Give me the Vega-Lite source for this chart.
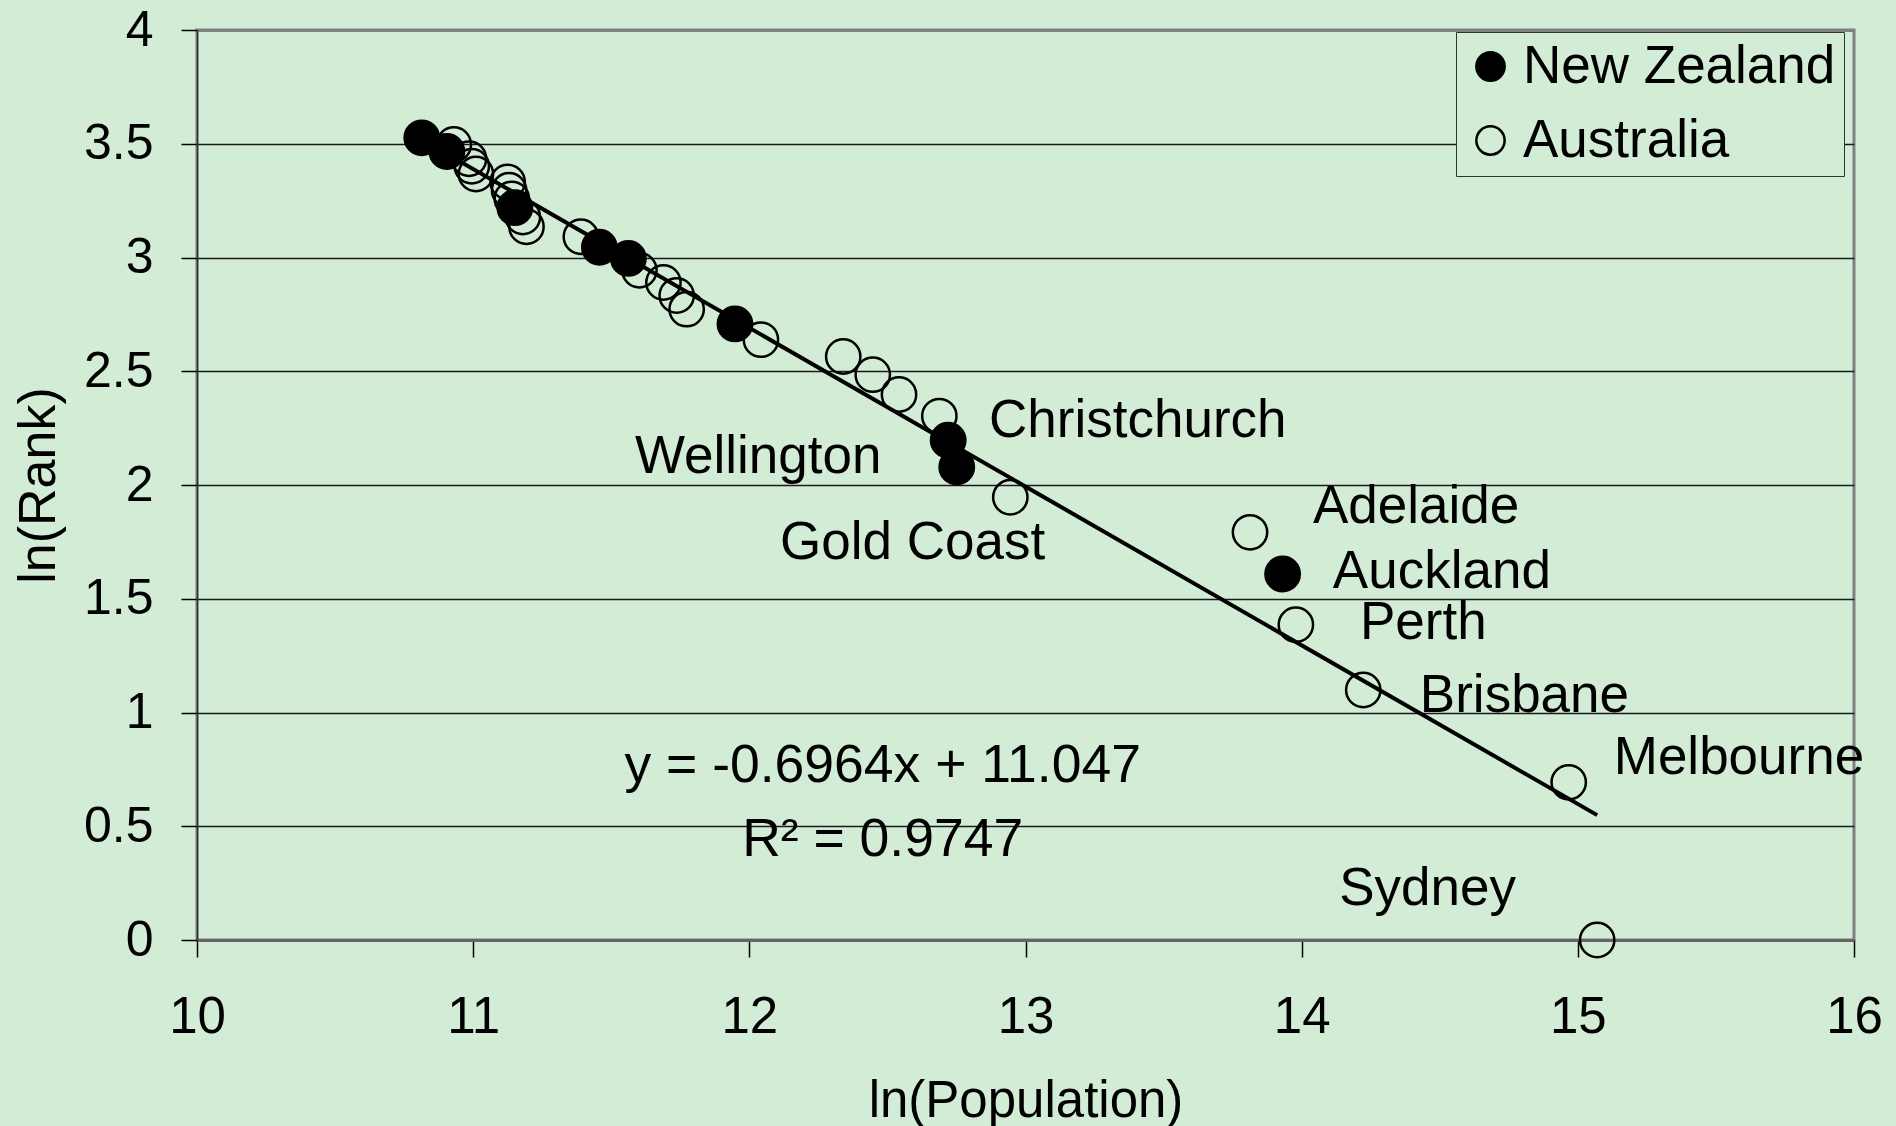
{
  "$schema": "https://vega.github.io/schema/vega-lite/v6.json",
  "autosize": "none",
  "width": 1657,
  "height": 910,
  "padding": {"left": 197, "top": 30, "right": 42, "bottom": 186},
  "background": "#d3ecd6",
  "config": {
    "view": {"stroke": "#808080", "strokeWidth": 3},
    "font": "Liberation Sans",
    "axis": {"labelFont": "Liberation Sans", "titleFont": "Liberation Sans", "labelColor": "black", "titleColor": "black", "titleFontWeight": "normal", "tickColor": "black"},
    "legend": {"labelFont": "Liberation Sans"}
  },
  "datasets": {
    "cities": [
      {"city": "Sydney", "country": "Australia", "lnp": 15.07, "lnr": 0},
      {"city": "Melbourne", "country": "Australia", "lnp": 14.967, "lnr": 0.693},
      {"city": "Brisbane", "country": "Australia", "lnp": 14.223, "lnr": 1.099},
      {"city": "Perth", "country": "Australia", "lnp": 13.979, "lnr": 1.386},
      {"city": "Adelaide", "country": "Australia", "lnp": 13.813, "lnr": 1.792},
      {"city": "Gold Coast", "country": "Australia", "lnp": 12.945, "lnr": 1.946},
      {"city": "AU10", "country": "Australia", "lnp": 12.688, "lnr": 2.303},
      {"city": "AU11", "country": "Australia", "lnp": 12.542, "lnr": 2.398},
      {"city": "AU12", "country": "Australia", "lnp": 12.447, "lnr": 2.485},
      {"city": "AU13", "country": "Australia", "lnp": 12.34, "lnr": 2.565},
      {"city": "AU14", "country": "Australia", "lnp": 12.042, "lnr": 2.639},
      {"city": "AU16", "country": "Australia", "lnp": 11.773, "lnr": 2.773},
      {"city": "AU17", "country": "Australia", "lnp": 11.737, "lnr": 2.833},
      {"city": "AU18", "country": "Australia", "lnp": 11.689, "lnr": 2.89},
      {"city": "AU19", "country": "Australia", "lnp": 11.602, "lnr": 2.944},
      {"city": "AU22", "country": "Australia", "lnp": 11.39, "lnr": 3.091},
      {"city": "AU23", "country": "Australia", "lnp": 11.193, "lnr": 3.135},
      {"city": "AU24", "country": "Australia", "lnp": 11.18, "lnr": 3.178},
      {"city": "AU26", "country": "Australia", "lnp": 11.14, "lnr": 3.258},
      {"city": "AU27", "country": "Australia", "lnp": 11.13, "lnr": 3.296},
      {"city": "AU28", "country": "Australia", "lnp": 11.125, "lnr": 3.332},
      {"city": "AU29", "country": "Australia", "lnp": 11.01, "lnr": 3.367},
      {"city": "AU30", "country": "Australia", "lnp": 10.995, "lnr": 3.401},
      {"city": "AU31", "country": "Australia", "lnp": 10.985, "lnr": 3.434},
      {"city": "AU33", "country": "Australia", "lnp": 10.93, "lnr": 3.497},
      {"city": "Auckland", "country": "New Zealand", "lnp": 13.931, "lnr": 1.609},
      {"city": "Wellington", "country": "New Zealand", "lnp": 12.751, "lnr": 2.079},
      {"city": "Christchurch", "country": "New Zealand", "lnp": 12.72, "lnr": 2.197},
      {"city": "NZ15", "country": "New Zealand", "lnp": 11.948, "lnr": 2.708},
      {"city": "NZ20", "country": "New Zealand", "lnp": 11.562, "lnr": 2.996},
      {"city": "NZ21", "country": "New Zealand", "lnp": 11.457, "lnr": 3.045},
      {"city": "NZ25", "country": "New Zealand", "lnp": 11.151, "lnr": 3.219},
      {"city": "NZ32", "country": "New Zealand", "lnp": 10.905, "lnr": 3.466},
      {"city": "NZ34", "country": "New Zealand", "lnp": 10.814, "lnr": 3.526}
    ],
    "labels": [
      {"label": "Christchurch", "lnp": 12.868, "lnr": 2.211},
      {"label": "Wellington", "lnp": 11.586, "lnr": 2.053},
      {"label": "Gold Coast", "lnp": 12.111, "lnr": 1.676},
      {"label": "Adelaide", "lnp": 14.041, "lnr": 1.833},
      {"label": "Auckland", "lnp": 14.113, "lnr": 1.547},
      {"label": "Perth", "lnp": 14.211, "lnr": 1.323},
      {"label": "Brisbane", "lnp": 14.428, "lnr": 1.002},
      {"label": "Melbourne", "lnp": 15.13, "lnr": 0.73},
      {"label": "Sydney", "lnp": 14.136, "lnr": 0.153}
    ],
    "equation": [
      {"label": "y = -0.6964x + 11.047", "lnp": 12.483, "lnr": 0.696},
      {"label": "R² = 0.9747", "lnp": 12.483, "lnr": 0.369}
    ]
  },
  "layer": [
    {
      "data": {"name": "cities"},
      "mark": {"type": "point", "shape": "circle", "size": 1180, "stroke": "black", "strokeWidth": 2.5, "opacity": 1},
      "encoding": {
        "x": {"field": "lnp", "type": "quantitative", "title": "ln(Population)",
              "scale": {"domain": [10, 16], "nice": false, "zero": false},
              "axis": {"values": [10, 11, 12, 13, 14, 15, 16], "format": "d", "grid": false, "labelFlush": false, "labelFontSize": 51, "tickSize": 17, "tickWidth": 1.5, "labelPadding": 35, "domainColor": "#666666", "domainWidth": 3, "titleFontSize": 51, "titlePadding": 34}},
        "y": {"field": "lnr", "type": "quantitative", "title": "ln(Rank)",
              "scale": {"domain": [0, 4], "nice": false},
              "axis": {"values": [0, 0.5, 1, 1.5, 2, 2.5, 3, 3.5, 4], "labelExpr": "'' + datum.value", "grid": true, "labelFlush": false,
                       "gridColor": {"condition": {"test": "datum.value === 4", "value": "#808080"}, "value": "#1a1a1a"},
                       "gridWidth": {"condition": {"test": "datum.value === 4", "value": 3}, "value": 1.3},
                       "labelFontSize": 50, "tickSize": 16, "tickWidth": 1.5, "labelPadding": 28, "domainColor": "#333333", "domainWidth": 1.5, "titleFontSize": 52, "titlePadding": 18}},
        "fill": {"field": "country", "type": "nominal",
                 "scale": {"domain": ["New Zealand", "Australia"], "range": ["black", "transparent"]},
                 "legend": {"title": null, "orient": "none", "legendX": 1259, "legendY": 2, "labelFontSize": 53, "labelColor": "black", "labelLimit": 0,
                            "symbolType": "circle", "symbolSize": 800, "symbolStrokeColor": "black", "symbolStrokeWidth": 2.5,
                            "labelOffset": 6, "rowPadding": 20, "padding": 8, "strokeColor": "#333333", "fillColor": "#d3ecd6"}}
      }
    },
    {
      "data": {"name": "cities"},
      "transform": [{"regression": "lnr", "on": "lnp"}],
      "mark": {"type": "line", "color": "black", "strokeWidth": 4},
      "encoding": {
        "x": {"field": "lnp", "type": "quantitative", "title": "ln(Population)"},
        "y": {"field": "lnr", "type": "quantitative", "title": "ln(Rank)"}
      }
    },
    {
      "data": {"name": "labels"},
      "mark": {"type": "text", "align": "left", "baseline": "alphabetic", "fontSize": 53, "color": "black", "font": "Liberation Sans"},
      "encoding": {
        "x": {"field": "lnp", "type": "quantitative", "title": "ln(Population)"},
        "y": {"field": "lnr", "type": "quantitative", "title": "ln(Rank)"},
        "text": {"field": "label"}
      }
    },
    {
      "data": {"name": "equation"},
      "mark": {"type": "text", "align": "center", "baseline": "alphabetic", "fontSize": 53.5, "color": "black", "font": "Liberation Sans"},
      "encoding": {
        "x": {"field": "lnp", "type": "quantitative", "title": "ln(Population)"},
        "y": {"field": "lnr", "type": "quantitative", "title": "ln(Rank)"},
        "text": {"field": "label"}
      }
    }
  ]
}
